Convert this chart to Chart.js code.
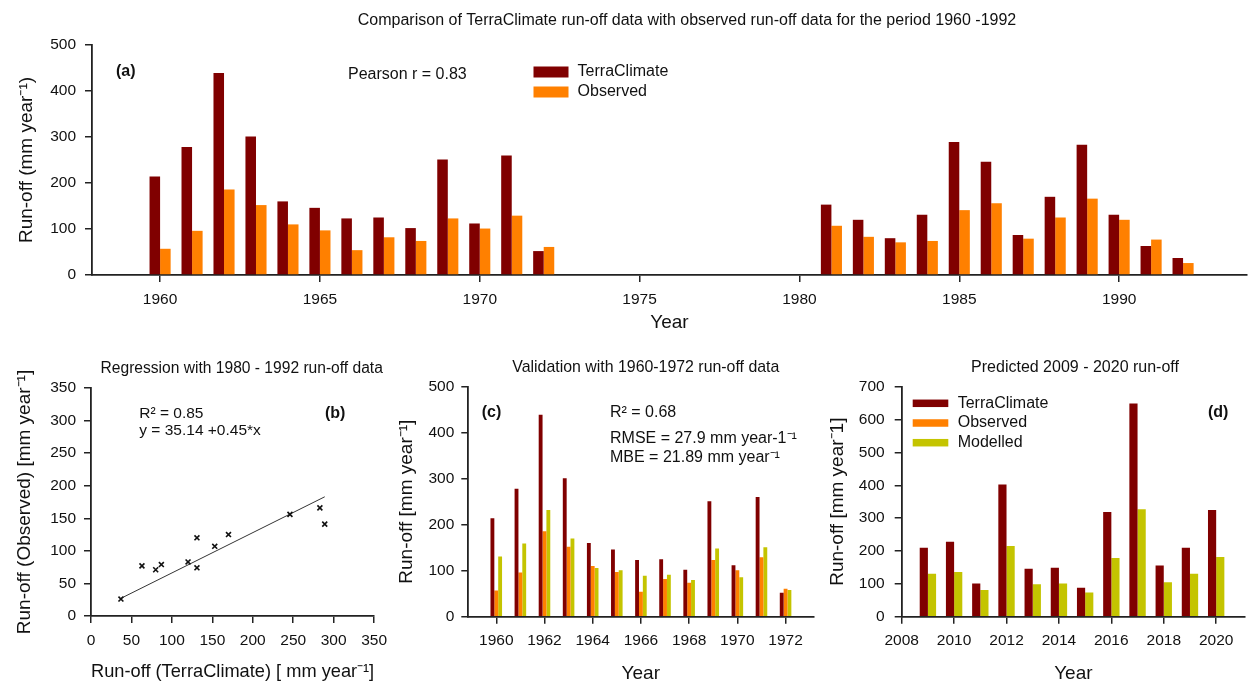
<!DOCTYPE html>
<html>
<head>
<meta charset="utf-8">
<script src="https://cdn.jsdelivr.net/npm/chart.js@4/dist/chart.umd.min.js"></script>
<style>
  body { margin: 0; background: #fff; }
  #wrap { position: relative; width: 1249px; height: 683px; }
  canvas { position: absolute; }
</style>
</head>
<body>
<div id="wrap">
  <canvas id="chartA" width="1249" height="340" style="left:0;top:0"></canvas>
  <canvas id="chartB" width="395" height="338" style="left:0;top:345px"></canvas>
  <canvas id="chartC" width="425" height="338" style="left:395px;top:345px"></canvas>
  <canvas id="chartD" width="429" height="338" style="left:820px;top:345px"></canvas>
</div>
<script>
// values
const yearsEarly = [1960, 1961, 1962, 1963, 1964, 1965, 1966, 1967, 1968, 1969, 1970, 1971, 1972];
const terraEarly = [214, 278, 439, 301, 160, 146, 123, 125, 102, 251, 112, 260, 52];
const obsEarly   = [57, 96, 186, 152, 110, 97, 54, 82, 74, 123, 101, 129, 61];
const modelEarly = [131, 159, 232, 170, 106, 101, 89, 91, 80, 148, 86, 151, 58];

const yearsLate = [1981, 1982, 1983, 1984, 1985, 1986, 1987, 1988, 1989, 1990, 1991, 1992];
const terraLate = [153, 120, 80, 131, 289, 246, 87, 170, 283, 131, 63, 37];
const obsLate   = [107, 83, 71, 74, 141, 156, 79, 125, 166, 120, 77, 26];

// regression line as drawn in panel (b)
const regLineX = [36, 289];
const regLineY = [26.5, 183];

const yearsPred = [2009, 2010, 2011, 2012, 2013, 2014, 2015, 2016, 2017, 2018, 2019, 2020];
const terraPred = [210, 228, 101, 402, 146, 149, 88, 319, 649, 156, 210, 325];
const modelPred = [131, 136, 81, 215, 99, 101, 74, 179, 327, 105, 131, 182];

const FONT = '"Liberation Sans", Arial, sans-serif';
const INK = '#111';
const AXIS = '#222';
const C_TERRA = '#800000';
const C_OBS = '#ff8000';
const C_MOD = '#c4c400';
const TICK = 15.5;

Chart.defaults.font.family = FONT;
Chart.defaults.color = INK;
Chart.defaults.animation = false;
Chart.defaults.plugins.legend.display = false;
Chart.defaults.plugins.tooltip.enabled = false;

const toXY = (xs, ys) => xs.map((x, i) => ({ x, y: ys[i] }));

// free text + legend drawn on top of each panel
const overlay = {
    id: 'overlay',
    afterDraw(chart, args, o) {
        const ctx = chart.ctx;
        ctx.save();
        ctx.textBaseline = 'middle';
        (o.texts || []).forEach(t => {
            ctx.fillStyle = INK;
            ctx.font = (t.bold ? 'bold ' : '') + t.size + 'px ' + FONT;
            ctx.textAlign = t.align || 'left';
            ctx.fillText(t.text, t.x, t.y);
        });
        const lg = o.legend;
        if (lg) {
            ctx.font = lg.size + 'px ' + FONT;
            ctx.textAlign = 'left';
            chart.data.datasets.forEach((ds, i) => {
                const y = lg.y + i * lg.gap;
                ctx.fillStyle = ds.backgroundColor;
                ctx.fillRect(lg.x, y - lg.boxH / 2, lg.boxW, lg.boxH);
                ctx.fillStyle = INK;
                ctx.fillText(ds.label, lg.textX, y);
            });
        }
        ctx.restore();
    }
};

function yAxis(max, step, title, width, titlePad, tickLen, pad) {
    return {
        min: 0, max,
        ticks: { stepSize: step, padding: pad, font: { size: TICK }, color: INK },
        grid: { drawOnChartArea: false, tickLength: tickLen, color: AXIS, lineWidth: 1.5 },
        border: { display: true, color: AXIS, width: 1.8 },
        title: { display: true, text: title, color: INK, font: { size: 19 }, padding: { top: titlePad, bottom: 0 } },
        afterFit: s => { s.width = width; }
    };
}

function xAxis(min, max, step, title, height, titleBottom, tickLen, pad) {
    return {
        type: 'linear', min, max, offset: false,
        ticks: { stepSize: step, includeBounds: false, padding: pad, font: { size: TICK }, color: INK,
                 maxRotation: 0, autoSkip: false, callback: v => String(v) },
        grid: { offset: false, drawOnChartArea: false, tickLength: tickLen, color: AXIS, lineWidth: 1.5 },
        border: { display: true, color: AXIS, width: 1.8 },
        title: { display: true, text: title, color: INK, font: { size: 19 }, padding: { top: 0, bottom: titleBottom } },
        afterFit: s => { s.height = height; }
    };
}

const barSet = (label, xs, ys, color) => ({
    label, data: toXY(xs, ys), backgroundColor: color, borderWidth: 0
});

// (a) full period comparison
new Chart(document.getElementById('chartA'), {
    type: 'bar',
    data: {
        datasets: [
            barSet('TerraClimate', yearsEarly.concat(yearsLate), terraEarly.concat(terraLate), C_TERRA),
            barSet('Observed', yearsEarly.concat(yearsLate), obsEarly.concat(obsLate), C_OBS)
        ]
    },
    options: {
        responsive: false,
        categoryPercentage: 0.66,
        barPercentage: 1,
        layout: { padding: { left: 0, top: 45, right: 2, bottom: 0 } },
        scales: {
            x: xAxis(1957.87, 1994, 5, 'Year', 65, 5.6, 7, 8),
            y: yAxis(500, 100, 'Run-off (mm year⁻¹)', 92, 15, 7, 9)
        },
        plugins: {
            overlay: {
                texts: [
                    { text: 'Comparison of TerraClimate run-off data with observed run-off data for the period 1960 -1992', x: 687, y: 20.7, size: 16, align: 'center' },
                    { text: '(a)', x: 116, y: 72, size: 16, bold: true },
                    { text: 'Pearson r = 0.83', x: 348, y: 75, size: 16 }
                ],
                legend: { x: 533.5, y: 72, gap: 20, boxW: 35, boxH: 11, textX: 577.6, size: 16 }
            }
        }
    },
    plugins: [overlay]
});

// (b) regression
new Chart(document.getElementById('chartB'), {
    type: 'scatter',
    data: {
        datasets: [
            { label: 'points', data: toXY(terraLate, obsLate), pointStyle: 'crossRot', pointRadius: 3.5,
              borderColor: INK, borderWidth: 1.6, backgroundColor: INK },
            { label: 'fit', data: toXY(regLineX, regLineY), showLine: true, pointRadius: 0,
              borderColor: '#333', borderWidth: 1 }
        ]
    },
    options: {
        responsive: false,
        layout: { padding: { left: 0, top: 43, right: 15.7, bottom: 0 } },
        scales: {
            x: Object.assign(xAxis(0, 350, 50, 'Run-off (TerraClimate) [ mm year⁻¹]', 67, 0, 7, 8), { ticks: { stepSize: 50, padding: 8, font: { size: TICK }, color: INK, maxRotation: 0, autoSkip: false } }),
            y: yAxis(350, 50, 'Run-off (Observed) [mm year⁻¹]', 91, 13.6, 7, 8)
        },
        plugins: {
            overlay: {
                texts: [
                    { text: 'Regression with 1980 - 1992 run-off data', x: 241.7, y: 23.3, size: 15.6, align: 'center' },
                    { text: 'R² = 0.85', x: 139.3, y: 69, size: 15.5 },
                    { text: 'y = 35.14 +0.45*x', x: 139.3, y: 86, size: 15.5 },
                    { text: '(b)', x: 325, y: 69, size: 16, bold: true }
                ]
            }
        }
    },
    plugins: [overlay]
});

// (c) validation
new Chart(document.getElementById('chartC'), {
    type: 'bar',
    data: {
        datasets: [
            barSet('TerraClimate', yearsEarly, terraEarly, C_TERRA),
            barSet('Observed', yearsEarly, obsEarly, C_OBS),
            barSet('Modelled', yearsEarly, modelEarly, C_MOD)
        ]
    },
    options: {
        responsive: false,
        categoryPercentage: 0.48,
        barPercentage: 1,
        layout: { padding: { left: 0, top: 41.7, right: 6.7, bottom: 0 } },
        scales: {
            x: xAxis(1958.84, 1973.15, 2, 'Year', 66.3, -2, 7, 8),
            y: yAxis(500, 100, 'Run-off [mm year⁻¹]', 73.3, 0.3, 7, 7)
        },
        plugins: {
            overlay: {
                texts: [
                    { text: 'Validation with 1960-1972 run-off data', x: 645.8 - 395, y: 23, size: 15.9, align: 'center' },
                    { text: '(c)', x: 86.7, y: 67.7, size: 16, bold: true },
                    { text: 'R² = 0.68', x: 215, y: 67.7, size: 16 },
                    { text: 'RMSE = 27.9 mm year-1⁻¹', x: 215, y: 93.3, size: 16 },
                    { text: 'MBE = 21.89 mm year⁻¹', x: 215, y: 112.3, size: 16 }
                ]
            }
        }
    },
    plugins: [overlay]
});

// (d) prediction
new Chart(document.getElementById('chartD'), {
    type: 'bar',
    data: {
        datasets: [
            barSet('TerraClimate', yearsPred, terraPred, C_TERRA),
            { label: 'Observed', data: [], backgroundColor: C_OBS, grouped: false },
            barSet('Modelled', yearsPred, modelPred, C_MOD)
        ]
    },
    options: {
        responsive: false,
        categoryPercentage: 0.625,
        barPercentage: 1,
        layout: { padding: { left: 0, top: 41.7, right: 4, bottom: 0 } },
        scales: {
            x: xAxis(2008, 2021.1, 2, 'Year', 66.3, -2, 7, 8),
            y: yAxis(700, 100, 'Run-off [mm year⁻1]', 81.7, 6.6, 7, 10)
        },
        plugins: {
            overlay: {
                texts: [
                    { text: 'Predicted 2009 - 2020 run-off', x: 255, y: 23, size: 16, align: 'center' },
                    { text: '(d)', x: 388, y: 67.7, size: 16, bold: true }
                ],
                legend: { x: 92.7, y: 58.3, gap: 19.7, boxW: 35.6, boxH: 7.5, textX: 137.7, size: 16 }
            }
        }
    },
    plugins: [overlay]
});
</script>
</body>
</html>
